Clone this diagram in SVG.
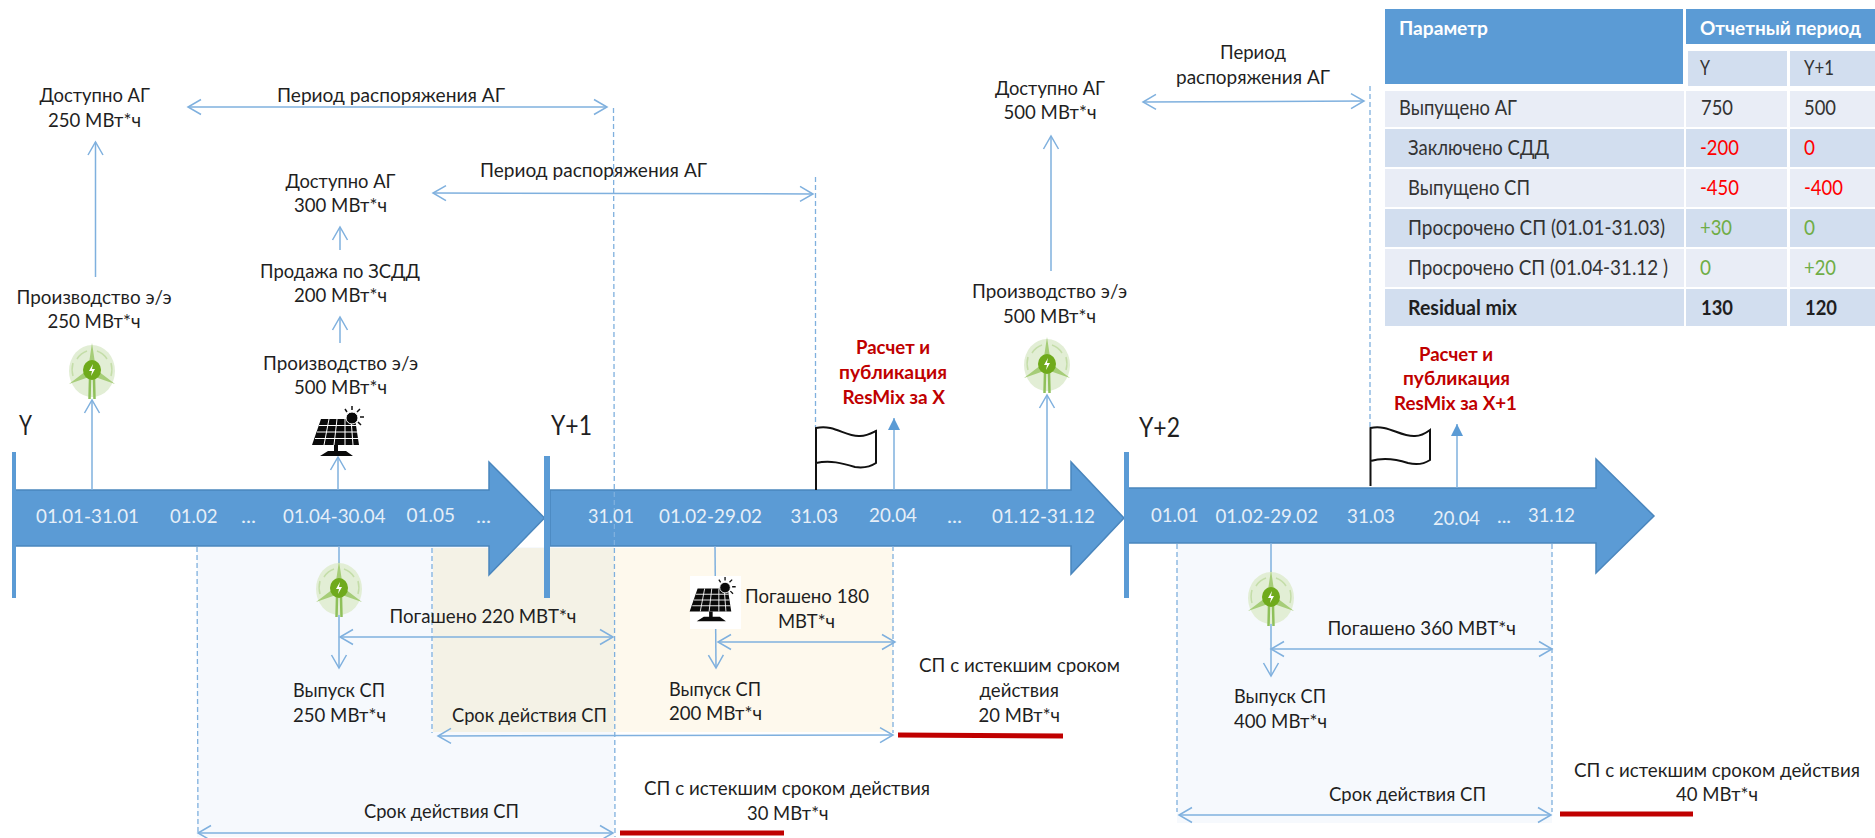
<svg xmlns="http://www.w3.org/2000/svg" xmlns:xlink="http://www.w3.org/1999/xlink" width="1875" height="838" viewBox="0 0 1875 838">
<style>
text{font-family:"Lato","Open Sans","Liberation Sans",sans-serif;font-size:19.500px;fill:#1f1f1f}
.w{fill:#e6eff8;font-size:20px}
.r{fill:#c00000;font-weight:700;font-size:19.500px}
.big{font-size:26px}
.th{fill:#fff;font-weight:700;font-size:19.500px}
.td{fill:#333;font-size:20.500px}
.red{fill:#ff0000;font-size:20.500px}
.grn{fill:#70ad47;font-size:20.500px}
.bold{fill:#1f1f1f;font-weight:700;font-size:20.500px}
.arrow{fill:#5b9bd5;stroke:#4a86bd;stroke-width:1.500}
.bar{fill:#5b9bd5}
.c{fill:none;stroke:#7fb0de;stroke-width:1.5}
.a2{marker-start:url(#open);marker-end:url(#open)}
.a1{marker-end:url(#open)}
.dash{fill:none;stroke:#7fb0de;stroke-width:1.3;stroke-dasharray:5 3}
.redl{stroke:#c00000;stroke-width:5;fill:none}
.flag{fill:#fff;stroke:#111;stroke-width:2}
.pale{fill:#d2deef}.lite{fill:#e9edf6}.hd{fill:#5b9bd5}
</style>
<defs>
<marker id="open" viewBox="-16 -9 18 18" markerUnits="userSpaceOnUse" markerWidth="18" markerHeight="18" refX="0" refY="0" orient="auto-start-reverse"><path d="M-13-7.5 L0 0 L-13 7.5" fill="none" stroke="#7fb0de" stroke-width="1.5"/></marker>
<marker id="solid" viewBox="-14 -8 16 16" markerUnits="userSpaceOnUse" markerWidth="16" markerHeight="16" refX="0" refY="0" orient="auto"><path d="M-12-6 L0 0 L-12 6Z" fill="#5b9bd5"/></marker>
<symbol id="wind" overflow="visible" viewBox="-23 -28 46 56" width="46" height="56">
<ellipse cx="0" cy="0" rx="23" ry="26" fill="#e2eed5"/>
<path d="M-15-12 A19 19 0 0 1 -5-20 M15-12 A19 19 0 0 0 5-20 M-19 5 A24 24 0 0 1 -19-8 M19 5 A24 24 0 0 0 19-8" fill="none" stroke="#c4dda8" stroke-width="1.5"/>
<path d="M0-28 L3-8 L-3-8Z M-23 13 L-6 0 L-3 6Z M23 13 L6 0 L3 6Z" fill="#a6cd78"/>
<path d="M-2 8 L-2.500 28 M2 8 L2.500 28" stroke="#8fc05a" stroke-width="2.500" fill="none"/>
<ellipse cx="0" cy="-1" rx="9" ry="10" fill="#6faa1c"/>
<path d="M1-7 L-3 0 L0 0 L-1 5 L3-2 L0-2Z" fill="#fff"/>
</symbol>
<symbol id="solar" overflow="visible" width="70" height="60" viewBox="0 0 70 60">
<path d="M21 17 H55 L59 43 H12Z" fill="#0a0a0a"/>
<path d="M19 23.500 H56 M17 30 H57 M15 36.500 H58 M29 17 L24 43 M37 17 L34 43 M45 17 L45 43 M51 17 L53 43" stroke="#fff" stroke-width="1" fill="none"/>
<circle cx="52" cy="16" r="6" fill="#0a0a0a" stroke="#fff" stroke-width="1"/>
<path d="M52 4 V8 M60 7 L57 10 M64 15 H60 M61 23 L58 20 M45 7 L47 10" stroke="#111" stroke-width="1.500" fill="none"/>
<path d="M34 43 H38 V49 H46 L53 54 H20 L28 49 H34Z" fill="#0a0a0a"/>
</symbol>
</defs>
<rect width="1875" height="838" fill="#fff"/>
<g id="shading">
<rect x="197" y="547" width="417" height="290" fill="#f6f9fd"/>
<rect x="433" y="548" width="181" height="184" fill="#f4f2e6"/>
<rect x="614" y="548" width="279" height="184" fill="#fef9ed"/>
<rect x="1177" y="544" width="375" height="279" fill="#f6f9fd"/>
</g>
<g id="timeline-1"><path class="arrow" d="M15 490 H489 V462 L544.500 518 L489 575 V546 H15Z"/></g>
<g id="timeline-2"><path class="arrow" d="M550 490 H1071 V462 L1124 518 L1071 574 V546 H550Z"/></g>
<g id="timeline-3"><path class="arrow" d="M1128 488 H1596 V459 L1654 516 L1596 573 V543 H1128Z"/></g>
<g id="bars">
<rect class="bar" x="12" y="452" width="4" height="146"/>
<rect class="bar" x="544" y="456" width="6" height="142"/>
<rect class="bar" x="1124" y="452" width="5" height="146"/>
</g>
<g id="connectors">
<path class="dash" d="M613.500 108 L615 837 M815.500 177 V427 M1370 86 V427 M197 547 L198 833 M432 548 V733 M893 546 V733 M1177 544 V812 M1552 544 V812"/>
<path class="c a2" d="M188 107 H607"/>
<path class="c a2" d="M433 193 L813 194"/>
<path class="c a2" d="M1143 102 L1364 101"/>
<path class="c a2" d="M340 637 H613"/>
<path class="c a2" d="M718 642 H895"/>
<path class="c a2" d="M1271 649 H1552"/>
<path class="c a2" d="M438 736 L893 735"/>
<path class="c a2" d="M198 833 H613"/>
<path class="c a2" d="M1179 815 H1551"/>
<path class="c a1" d="M95.500 277 V142"/>
<path class="c a1" d="M92 490 V400"/>
<path class="c a1" d="M340 250 V227"/>
<path class="c a1" d="M340 343 V317"/>
<path class="c a1" d="M338 490 V457"/>
<path class="c a1" d="M339 546 V668"/>
<path class="c a1" d="M715 546 L716 668"/>
<path class="c a1" d="M1271 543 V676"/>
<path class="c a1" d="M1047 490 V395"/>
<path class="c a1" d="M1051 271 V136"/>
<path class="c" style="marker-end:url(#solid)" d="M894 490 V418"/>
<path class="c" style="marker-end:url(#solid)" d="M1457 488 V424"/>
</g>
<g id="flag-1"><path class="flag" d="M816 490 V428 C835 424 845 437 860 436 C867 436 872 433 876 431 V463 C870 467 862 468 855 467 C842 463 830 460 816 463"/></g>
<g id="flag-2"><path class="flag" d="M1370.500 486 V428 C1388 424 1400 437 1415 436 C1421 436 1426 433 1430 430 V460 C1424 464 1416 465 1408 463 C1396 459 1384 457 1370.500 461"/></g>
<g id="icons">
<use xlink:href="#wind" href="#wind" x="69" y="343"/>
<use xlink:href="#wind" href="#wind" x="316" y="561"/>
<use xlink:href="#wind" href="#wind" x="1024" y="337"/>
<use xlink:href="#wind" href="#wind" x="1248" y="570"/>
<use xlink:href="#solar" href="#solar" x="300" y="402"/>
<rect x="690" y="576" width="51" height="53" fill="#fff"/>
<use xlink:href="#solar" href="#solar" x="679" y="572" width="62" height="56"/>
</g>
<g id="red-lines">
<path class="redl" d="M898 735 L1063 736"/>
<path class="redl" d="M620 833 H784"/>
<path class="redl" d="M1560 814 H1693"/>
</g>
<g id="labels">
<text x="39.500" y="102" textLength="110.500" lengthAdjust="spacingAndGlyphs">Доступно АГ</text>
<text x="48" y="127" textLength="93" lengthAdjust="spacingAndGlyphs">250 МВт*ч</text>
<text x="277" y="102" textLength="228" lengthAdjust="spacingAndGlyphs">Период распоряжения АГ</text>
<text x="16.600" y="304" textLength="155" lengthAdjust="spacingAndGlyphs">Производство э/э</text>
<text x="47.500" y="328" textLength="93" lengthAdjust="spacingAndGlyphs">250 МВт*ч</text>
<text x="19" y="435" class="big" textLength="13" lengthAdjust="spacingAndGlyphs">Y</text>
<text x="551" y="435" class="big" textLength="41" lengthAdjust="spacingAndGlyphs">Y+1</text>
<text x="1139" y="437" class="big" textLength="41" lengthAdjust="spacingAndGlyphs">Y+2</text>
<text x="285.500" y="188" textLength="110" lengthAdjust="spacingAndGlyphs">Доступно АГ</text>
<text x="294" y="212" textLength="93" lengthAdjust="spacingAndGlyphs">300 МВт*ч</text>
<text x="480" y="177" textLength="227" lengthAdjust="spacingAndGlyphs">Период распоряжения АГ</text>
<text x="260" y="278" textLength="160" lengthAdjust="spacingAndGlyphs">Продажа по ЗСДД</text>
<text x="294" y="302" textLength="93" lengthAdjust="spacingAndGlyphs">200 МВт*ч</text>
<text x="263" y="370" textLength="155" lengthAdjust="spacingAndGlyphs">Производство э/э</text>
<text x="294" y="394" textLength="93" lengthAdjust="spacingAndGlyphs">500 МВт*ч</text>
<text x="995" y="95" textLength="110" lengthAdjust="spacingAndGlyphs">Доступно АГ</text>
<text x="1003.500" y="119" textLength="93" lengthAdjust="spacingAndGlyphs">500 МВт*ч</text>
<text x="1220" y="59" textLength="66" lengthAdjust="spacingAndGlyphs">Период</text>
<text x="1176" y="84" textLength="154" lengthAdjust="spacingAndGlyphs">распоряжения АГ</text>
<text x="972" y="298" textLength="155" lengthAdjust="spacingAndGlyphs">Производство э/э</text>
<text x="1003" y="323" textLength="93" lengthAdjust="spacingAndGlyphs">500 МВт*ч</text>
<text x="856" y="354" class="r" textLength="74" lengthAdjust="spacingAndGlyphs">Расчет и</text>
<text x="839" y="379" class="r" textLength="108" lengthAdjust="spacingAndGlyphs">публикация</text>
<text x="842.500" y="404" class="r" textLength="102.500" lengthAdjust="spacingAndGlyphs">ResMix за X</text>
<text x="1419" y="361" class="r" textLength="74" lengthAdjust="spacingAndGlyphs">Расчет и</text>
<text x="1403" y="385" class="r" textLength="107" lengthAdjust="spacingAndGlyphs">публикация</text>
<text x="1394" y="410" class="r" textLength="123" lengthAdjust="spacingAndGlyphs">ResMix за X+1</text>
<text x="389.500" y="623" textLength="187" lengthAdjust="spacingAndGlyphs">Погашено 220 МВТ*ч</text>
<text x="293" y="697" textLength="92" lengthAdjust="spacingAndGlyphs">Выпуск СП</text>
<text x="293" y="722" textLength="93" lengthAdjust="spacingAndGlyphs">250 МВт*ч</text>
<text x="452" y="722" textLength="155" lengthAdjust="spacingAndGlyphs">Срок действия СП</text>
<text x="364" y="818" textLength="155" lengthAdjust="spacingAndGlyphs">Срок действия СП</text>
<text x="745" y="603" textLength="124" lengthAdjust="spacingAndGlyphs">Погашено 180</text>
<text x="778" y="628" textLength="57" lengthAdjust="spacingAndGlyphs">МВТ*ч</text>
<text x="669" y="696" textLength="92" lengthAdjust="spacingAndGlyphs">Выпуск СП</text>
<text x="669" y="720" textLength="93" lengthAdjust="spacingAndGlyphs">200 МВт*ч</text>
<text x="919" y="672" textLength="201" lengthAdjust="spacingAndGlyphs">СП с истекшим сроком</text>
<text x="979.500" y="697" textLength="79.500" lengthAdjust="spacingAndGlyphs">действия</text>
<text x="978.600" y="722" textLength="81.400" lengthAdjust="spacingAndGlyphs">20 МВт*ч</text>
<text x="644" y="795" textLength="286" lengthAdjust="spacingAndGlyphs">СП с истекшим сроком действия</text>
<text x="747" y="820" textLength="81.500" lengthAdjust="spacingAndGlyphs">30 МВт*ч</text>
<text x="1327.500" y="635" textLength="188.500" lengthAdjust="spacingAndGlyphs">Погашено 360 МВТ*ч</text>
<text x="1234" y="703" textLength="92" lengthAdjust="spacingAndGlyphs">Выпуск СП</text>
<text x="1234" y="728" textLength="93" lengthAdjust="spacingAndGlyphs">400 МВт*ч</text>
<text x="1329" y="801" textLength="157" lengthAdjust="spacingAndGlyphs">Срок действия СП</text>
<text x="1574" y="777" textLength="286" lengthAdjust="spacingAndGlyphs">СП с истекшим сроком действия</text>
<text x="1676" y="801" textLength="82" lengthAdjust="spacingAndGlyphs">40 МВт*ч</text>
</g>
<g id="dates">
<text class="w" x="36" y="523" textLength="103" lengthAdjust="spacingAndGlyphs">01.01-31.01</text>
<text class="w" x="170" y="523" textLength="47.500" lengthAdjust="spacingAndGlyphs">01.02</text>
<text class="w" x="241" y="523" textLength="15" lengthAdjust="spacingAndGlyphs">...</text>
<text class="w" x="283" y="523" textLength="102.500" lengthAdjust="spacingAndGlyphs">01.04-30.04</text>
<text class="w" x="406.500" y="522" textLength="48.500" lengthAdjust="spacingAndGlyphs">01.05</text>
<text class="w" x="476" y="523" textLength="15" lengthAdjust="spacingAndGlyphs">...</text>
<text class="w" x="588" y="523" textLength="46" lengthAdjust="spacingAndGlyphs">31.01</text>
<text class="w" x="659" y="523" textLength="103" lengthAdjust="spacingAndGlyphs">01.02-29.02</text>
<text class="w" x="790.500" y="523" textLength="47.500" lengthAdjust="spacingAndGlyphs">31.03</text>
<text class="w" x="869" y="522" textLength="48" lengthAdjust="spacingAndGlyphs">20.04</text>
<text class="w" x="947" y="523" textLength="15" lengthAdjust="spacingAndGlyphs">...</text>
<text class="w" x="992" y="523" textLength="103" lengthAdjust="spacingAndGlyphs">01.12-31.12</text>
<text class="w" x="1151" y="522" textLength="47.500" lengthAdjust="spacingAndGlyphs">01.01</text>
<text class="w" x="1215.500" y="523" textLength="102.500" lengthAdjust="spacingAndGlyphs">01.02-29.02</text>
<text class="w" x="1347" y="523" textLength="48" lengthAdjust="spacingAndGlyphs">31.03</text>
<text class="w" x="1433" y="525" textLength="47" lengthAdjust="spacingAndGlyphs">20.04</text>
<text class="w" x="1497" y="523" textLength="14" lengthAdjust="spacingAndGlyphs">...</text>
<text class="w" x="1528" y="522" textLength="47" lengthAdjust="spacingAndGlyphs">31.12</text>
</g>
<g id="table">
<rect class="hd" x="1385" y="9" width="298" height="75"/>
<rect class="hd" x="1686" y="9" width="189" height="35"/>
<rect class="pale" x="1688" y="51" width="99" height="35"/>
<rect class="pale" x="1790" y="51" width="85" height="35"/>
<rect class="lite" x="1385" y="91" width="299" height="36"/><rect class="lite" x="1686" y="91" width="101" height="36"/><rect class="lite" x="1790" y="91" width="85" height="36"/>
<rect class="pale" x="1385" y="129" width="299" height="38"/><rect class="pale" x="1686" y="129" width="101" height="38"/><rect class="pale" x="1790" y="129" width="85" height="38"/>
<rect class="lite" x="1385" y="169" width="299" height="38"/><rect class="lite" x="1686" y="169" width="101" height="38"/><rect class="lite" x="1790" y="169" width="85" height="38"/>
<rect class="pale" x="1385" y="209" width="299" height="38"/><rect class="pale" x="1686" y="209" width="101" height="38"/><rect class="pale" x="1790" y="209" width="85" height="38"/>
<rect class="lite" x="1385" y="249" width="299" height="38"/><rect class="lite" x="1686" y="249" width="101" height="38"/><rect class="lite" x="1790" y="249" width="85" height="38"/>
<rect class="pale" x="1385" y="289" width="299" height="37"/><rect class="pale" x="1686" y="289" width="101" height="37"/><rect class="pale" x="1790" y="289" width="85" height="37"/>
<text class="th" x="1399" y="35" textLength="89" lengthAdjust="spacingAndGlyphs">Параметр</text>
<text class="th" x="1700" y="35" textLength="161" lengthAdjust="spacingAndGlyphs">Отчетный период</text>
<text class="td" x="1700" y="75" textLength="10" lengthAdjust="spacingAndGlyphs">Y</text>
<text class="td" x="1804" y="75" textLength="30" lengthAdjust="spacingAndGlyphs">Y+1</text>
<text class="td" x="1399" y="115" textLength="118" lengthAdjust="spacingAndGlyphs">Выпущено АГ</text>
<text class="td" x="1701" y="115" textLength="32" lengthAdjust="spacingAndGlyphs">750</text>
<text class="td" x="1804" y="115" textLength="32" lengthAdjust="spacingAndGlyphs">500</text>
<text class="td" x="1408" y="155" textLength="141" lengthAdjust="spacingAndGlyphs">Заключено СДД</text>
<text class="red" x="1700" y="155" textLength="39" lengthAdjust="spacingAndGlyphs">-200</text>
<text class="red" x="1804" y="155" textLength="11" lengthAdjust="spacingAndGlyphs">0</text>
<text class="td" x="1408" y="195" textLength="122" lengthAdjust="spacingAndGlyphs">Выпущено СП</text>
<text class="red" x="1700" y="195" textLength="39" lengthAdjust="spacingAndGlyphs">-450</text>
<text class="red" x="1804" y="195" textLength="39" lengthAdjust="spacingAndGlyphs">-400</text>
<text class="td" x="1408" y="235" textLength="257" lengthAdjust="spacingAndGlyphs">Просрочено СП (01.01-31.03)</text>
<text class="grn" x="1700" y="235" textLength="32" lengthAdjust="spacingAndGlyphs">+30</text>
<text class="grn" x="1804" y="235" textLength="11" lengthAdjust="spacingAndGlyphs">0</text>
<text class="td" x="1408" y="275" textLength="260" lengthAdjust="spacingAndGlyphs">Просрочено СП (01.04-31.12 )</text>
<text class="grn" x="1700" y="275" textLength="11" lengthAdjust="spacingAndGlyphs">0</text>
<text class="grn" x="1804" y="275" textLength="32" lengthAdjust="spacingAndGlyphs">+20</text>
<text class="bold" x="1408" y="315" textLength="109" lengthAdjust="spacingAndGlyphs">Residual mix</text>
<text class="bold" x="1701" y="315" textLength="32" lengthAdjust="spacingAndGlyphs">130</text>
<text class="bold" x="1805" y="315" textLength="32" lengthAdjust="spacingAndGlyphs">120</text>
</g>
</svg>
